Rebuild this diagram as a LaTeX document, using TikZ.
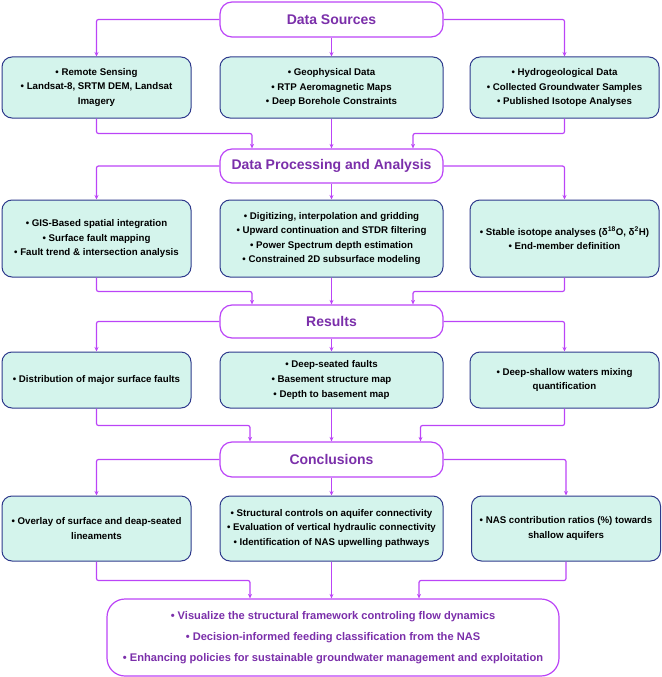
\documentclass[tikz,border=0pt]{standalone}
\usepackage{fontspec}
\setmainfont{Liberation Sans}
\usetikzlibrary{arrows.meta,calc}
\definecolor{conn}{HTML}{BB44F7}
\definecolor{titlec}{HTML}{7B2FAA}
\definecolor{navy}{HTML}{2E3A8C}
\definecolor{mint}{HTML}{D4F4EC}
\tikzset{
  stagebox/.style={draw=conn, line width=1.2pt, fill=white, rounded corners=12pt,
    text=titlec, font=\bfseries\fontsize{14}{16}\selectfont, inner sep=0pt,
    minimum width=223pt, minimum height=35pt},
  itembox/.style={draw=navy, line width=1pt, fill=mint, rounded corners=10pt,
    font=\bfseries\fontsize{9.7}{14.6}\selectfont, align=center, inner sep=0pt},
  wbox/.style={itembox, minimum width=189pt},
  mbox/.style={itembox, minimum width=223pt},
  conn/.style={draw=conn, line width=1.2pt, rounded corners=2pt,
    -{Stealth[length=4.5pt,width=4pt]}},
}
\begin{document}
\begin{tikzpicture}[x=1pt,y=-1pt]
\useasboundingbox (0,0) rectangle (661,677);

% Stage 1
\node[stagebox] (ds) at (331.5,19.5) {Data Sources};
\node[wbox, minimum height=61pt] (r1a) at (96.5,87.5) {• Remote Sensing\\• Landsat-8, SRTM DEM, Landsat\\Imagery};
\node[mbox, minimum height=61pt] (r1b) at (331.5,87.5) {• Geophysical Data\\• RTP Aeromagnetic Maps\\• Deep Borehole Constraints};
\node[wbox, minimum height=61pt] (r1c) at (564.5,87.5) {• Hydrogeological Data\\• Collected Groundwater Samples\\• Published Isotope Analyses};

% Stage 2
\node[stagebox, minimum height=34pt] (dp) at (331.5,166) {Data Processing and Analysis};
\node[wbox, minimum height=77pt] (r2a) at (96.5,238.5) {• GIS-Based spatial integration\\• Surface fault mapping\\• Fault trend \& intersection analysis};
\node[mbox, minimum height=77pt] (r2b) at (331.5,238.5) {• Digitizing, interpolation and gridding\\• Upward continuation and STDR filtering\\• Power Spectrum depth estimation\\• Constrained 2D subsurface modeling};
\node[wbox, minimum height=77pt] (r2c) at (564.5,238.5) {• Stable isotope analyses (δ\textsuperscript{18}O, δ\textsuperscript{2}H)\\• End-member definition};

% Stage 3
\node[stagebox, minimum height=33pt] (res) at (331.5,321.5) {Results};
\node[wbox, minimum height=56pt] (r3a) at (96.5,380) {• Distribution of major surface faults};
\node[mbox, minimum height=56pt] (r3b) at (331.5,380) {• Deep-seated faults\\• Basement structure map\\• Depth to basement map};
\node[wbox, minimum height=56pt] (r3c) at (564.5,380) {• Deep-shallow waters mixing\\quantification};

% Stage 4
\node[stagebox, minimum height=35pt] (con) at (331.5,459.5) {Conclusions};
\node[wbox, minimum height=65pt] (r4a) at (96.5,528.5) {• Overlay of surface and deap-seated\\lineaments};
\node[mbox, minimum height=65pt] (r4b) at (331.5,528.5) {• Structural controls on aquifer connectivity\\• Evaluation of vertical hydraulic connectivity\\• Identification of NAS upwelling pathways};
\node[wbox, minimum height=65pt] (r4c) at (566,528.5) {• NAS contribution ratios (\%) towards\\shallow aquifers};

% Final
\node[draw=conn, line width=1.2pt, fill=white, rounded corners=18pt, text=titlec,
  font=\bfseries\fontsize{11.1}{20.8}\selectfont, align=center, inner sep=0pt,
  minimum width=452pt, minimum height=77pt] (fin) at (333,637.5)
  {• Visualize the structural framework controling flow dynamics\\• Decision-informed feeding classification from the NAS\\• Enhancing policies for sustainable groundwater management and exploitation};

% Divergent connectors
\foreach \s/\a/\b/\c in {ds/r1a/r1b/r1c, dp/r2a/r2b/r2c, res/r3a/r3b/r3c, con/r4a/r4b/r4c}{
  \draw[conn] (\s.west) -| (\a.north);
  \draw[conn] (\s.south) -- (\b.north);
  \draw[conn] (\s.east) -| (\c.north);
}

% Convergent connectors
\draw[conn] (r1a.south) -- ++(0,15) -| ([xshift=-79.5pt]dp.north);
\draw[conn] (r1b.south) -- (dp.north);
\draw[conn] (r1c.south) -- ++(0,15) -| ([xshift=81.5pt]dp.north);

\draw[conn] (r2a.south) -- ++(0,14) -| ([xshift=-79.5pt]res.north);
\draw[conn] (r2b.south) -- (res.north);
\draw[conn] (r2c.south) -- ++(0,14) -| ([xshift=81.5pt]res.north);

\draw[conn] (r3a.south) -- ++(0,17) -| ([xshift=-81.5pt]con.north);
\draw[conn] (r3b.south) -- (con.north);
\draw[conn] (r3c.south) -- ++(0,17) -| ([xshift=89pt]con.north);

\draw[conn] (r4a.south) -- ++(0,19) -| ([xshift=-83pt]fin.north);
\draw[conn] (r4b.south) -- ([xshift=-1.5pt]fin.north);
\draw[conn] (r4c.south) -- ++(0,19) -| ([xshift=86pt]fin.north);
\end{tikzpicture}
\end{document}
